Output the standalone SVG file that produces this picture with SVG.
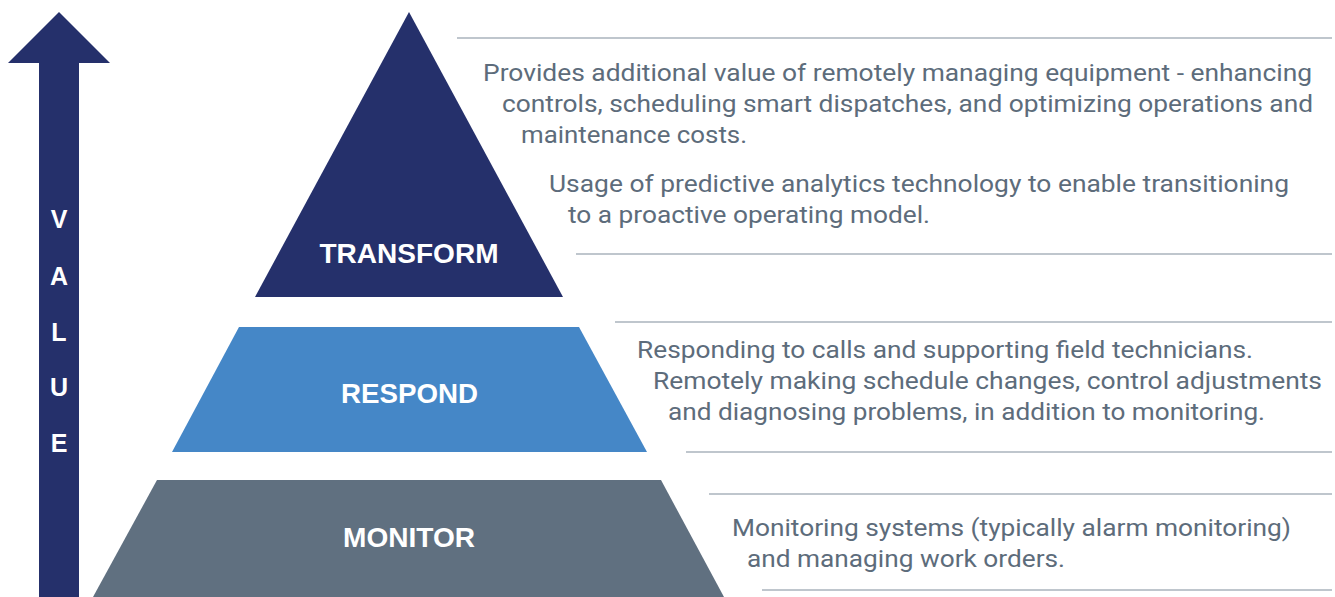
<svg xmlns="http://www.w3.org/2000/svg" width="1335" height="597" viewBox="0 0 1335 597">
  <style>
    .tier-label { font-family: "Liberation Sans", Arial, sans-serif; font-weight: bold; font-size: 28px; fill: #ffffff; text-anchor: middle; }
    .axis-letter { font-family: "Liberation Sans", Arial, sans-serif; font-weight: bold; font-size: 25px; fill: #ffffff; text-anchor: middle; }
    .desc { font-family: "Roboto", "Liberation Sans", sans-serif; font-size: 24px; fill: #5d6c7b; }
    .rule { stroke: #aab3bc; stroke-width: 1.5; }
  </style>
  <rect width="1335" height="597" fill="#ffffff"/>

  <!-- value axis arrow -->
  <g id="value-arrow">
    <polygon points="59,12 110,63 79,63 79,597 39,597 39,63 8,63" fill="#25306b"/>
    <text class="axis-letter" x="59" y="228">V</text>
    <text class="axis-letter" x="59" y="285">A</text>
    <text class="axis-letter" x="59" y="341">L</text>
    <text class="axis-letter" x="59" y="396">U</text>
    <text class="axis-letter" x="59" y="452">E</text>
  </g>

  <!-- pyramid tiers -->
  <g id="tier-transform">
    <polygon points="409,12 563,297 255,297" fill="#25306b"/>
    <text class="tier-label" x="409" y="263" textLength="179" lengthAdjust="spacingAndGlyphs">TRANSFORM</text>
  </g>
  <g id="tier-respond">
    <polygon points="239,327 579,327 647,452 172,452" fill="#4587c7"/>
    <text class="tier-label" x="409.5" y="403" textLength="137" lengthAdjust="spacingAndGlyphs">RESPOND</text>
  </g>
  <g id="tier-monitor">
    <polygon points="157,480 661,480 724,597 93,597" fill="#607080"/>
    <text class="tier-label" x="409" y="547" textLength="132" lengthAdjust="spacingAndGlyphs">MONITOR</text>
  </g>

  <!-- divider rules -->
  <g id="rules">
    <line class="rule" x1="457" y1="38" x2="1332" y2="38"/>
    <line class="rule" x1="576" y1="254" x2="1332" y2="254"/>
    <line class="rule" x1="615" y1="322" x2="1332" y2="322"/>
    <line class="rule" x1="686" y1="452" x2="1332" y2="452"/>
    <line class="rule" x1="709" y1="494" x2="1332" y2="494"/>
    <line class="rule" x1="762" y1="590" x2="1332" y2="590"/>
  </g>

  <!-- descriptions -->
  <g id="desc-transform">
    <text class="desc" x="483" y="81" textLength="829" lengthAdjust="spacingAndGlyphs">Provides additional value of remotely managing equipment - enhancing</text>
    <text class="desc" x="502" y="112" textLength="811" lengthAdjust="spacingAndGlyphs">controls, scheduling smart dispatches, and optimizing operations and</text>
    <text class="desc" x="521" y="143" textLength="226" lengthAdjust="spacingAndGlyphs">maintenance costs.</text>
    <text class="desc" x="549" y="192" textLength="740" lengthAdjust="spacingAndGlyphs">Usage of predictive analytics technology to enable transitioning</text>
    <text class="desc" x="568" y="223" textLength="362" lengthAdjust="spacingAndGlyphs">to a proactive operating model.</text>
  </g>
  <g id="desc-respond">
    <text class="desc" x="637" y="358" textLength="616" lengthAdjust="spacingAndGlyphs">Responding to calls and supporting field technicians.</text>
    <text class="desc" x="653" y="389" textLength="669" lengthAdjust="spacingAndGlyphs">Remotely making schedule changes, control adjustments</text>
    <text class="desc" x="668" y="420" textLength="597" lengthAdjust="spacingAndGlyphs">and diagnosing problems, in addition to monitoring.</text>
  </g>
  <g id="desc-monitor">
    <text class="desc" x="732" y="536" textLength="559" lengthAdjust="spacingAndGlyphs">Monitoring systems (typically alarm monitoring)</text>
    <text class="desc" x="747" y="567" textLength="318" lengthAdjust="spacingAndGlyphs">and managing work orders.</text>
  </g>
</svg>
